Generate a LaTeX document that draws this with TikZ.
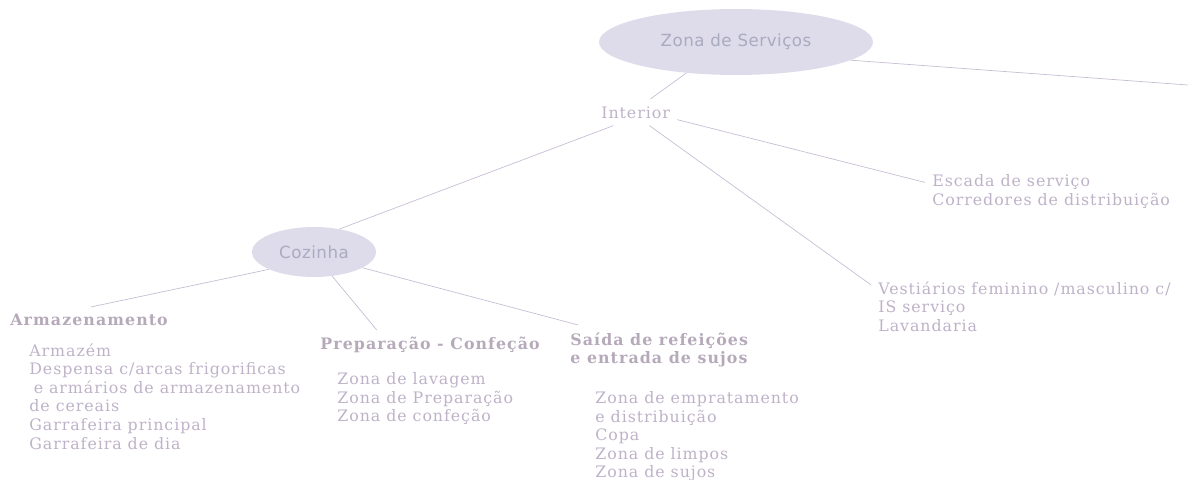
\documentclass[tikz,border=0pt]{standalone}
\usepackage{fontspec}
\setmainfont{DejaVu Serif}[LetterSpace=6]
\newfontfamily\ovalfont{DejaVu Sans}[LetterSpace=3]
\usetikzlibrary{shapes.geometric,positioning}
\definecolor{leaf text}{RGB}{190,178,200}
\definecolor{heading text}{RGB}{182,170,186}
\definecolor{oval fill}{RGB}{222,220,234}
\definecolor{oval text}{RGB}{170,170,192}
\definecolor{link color}{RGB}{200,190,212}
\tikzset{
    oval/.style={ellipse,fill=oval fill,text=oval text,inner sep=0pt,font=\ovalfont\fontsize{9.5}{11}\selectfont},
    leaf/.style={align=left,anchor=north west,text=leaf text,inner xsep=4pt,inner ysep=4pt},
    heading/.style={leaf,text=heading text,font=\bfseries\fontsize{9}{10.6}\selectfont\addfontfeatures{LetterSpace=6.8}},
    link/.style={draw=link color,thin},
}
\tikzstyle{every node}=[font=\fontsize{9}{10.6}\selectfont]

\begin{document}
\begin{tikzpicture}[x=0.02cm,y=-0.02cm]
        \useasboundingbox (0,0) rectangle (1191,480);
        % ellipses
        \node[oval,minimum width=5.48cm,minimum height=1.32cm] (zona) at (736,42) {Zona de Serviços};
        \node[oval,minimum width=2.48cm,minimum height=1.0cm] (cozinha) at (314,252) {Cozinha};
        \coordinate (edge) at (1188,85);
        % texts
        \node[leaf] (interior) at (594,99) {Interior};
        \node[leaf] (escada) at (925,167) {Escada de serviço\\Corredores de distribuição};
        \node[leaf] (vest) at (871,274) {Vestiários feminino /masculino c/\\IS serviço\\Lavandaria};
        \node[heading] (armaz) at (3,307) {Armazenamento};
        \node[leaf] (armlist) at (22,336) {Armazém\\Despensa c/arcas frigorificas\\\hspace*{2.5pt}e armários de armazenamento\\de cereais\\Garrafeira principal\\Garrafeira de dia};
        \node[heading] (prep) at (313,330) {Preparação - Confeção};
        \node[leaf] (preplist) at (330,365) {Zona de lavagem\\Zona de Preparação\\Zona de confeção};
        \node[heading] (saida) at (563,325) {Saída de refeições\\e entrada de sujos};
        \node[leaf] (saidalist) at (588,384) {Zona de empratamento\\e distribuição\\Copa\\Zona de limpos\\Zona de sujos};
        % links
        \draw[link] (zona.212) -- (interior.42);
        \draw[link] (zona.-9) -- (edge);
        \draw[link] (interior.-10) -- (escada.176);
        \draw[link] (interior.-44) -- (vest.172);
        \draw[link] (interior.211) -- (cozinha.42);
        \draw[link] (cozinha.201) -- (armaz.83);
        \draw[link] (cozinha.-53) -- (prep.164);
        \draw[link] (cozinha.-18) -- (saida.163);
    \end{tikzpicture}
\end{document}
